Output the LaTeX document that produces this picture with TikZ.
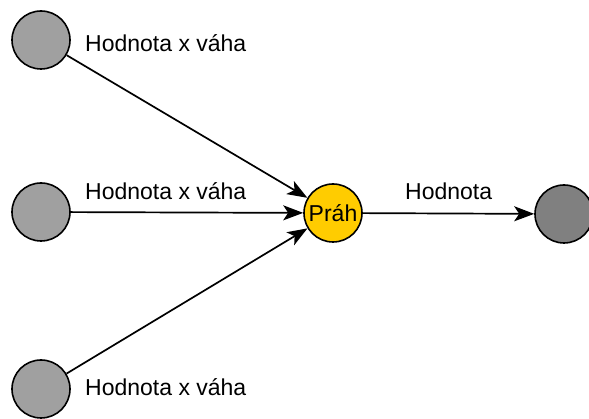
\documentclass[tikz,border=0pt]{standalone}
\usepackage{fontspec}
\setmainfont{Liberation Sans}
\usetikzlibrary{arrows.meta}
\definecolor{inputgray}{HTML}{A0A0A0}
\definecolor{outputgray}{HTML}{808080}
\definecolor{threshold}{HTML}{FFCC00}
\tikzset{
  neuron/.style={circle, draw=black, line width=1.6pt, minimum size=58pt, inner sep=0pt},
  conn/.style={line width=1.7pt, -{Stealth[length=20pt, width=15pt, inset=5pt]}},
  lbl/.style={font=\fontsize{23}{26}\selectfont, inner sep=0pt, anchor=base west},
}
\begin{document}
\begin{tikzpicture}[x=1pt, y=1pt]
  \useasboundingbox (0,0) rectangle (589,419);
  % input neurons
  \node[neuron, fill=inputgray] (i1) at (41,379) {};
  \node[neuron, fill=inputgray] (i2) at (41,207) {};
  \node[neuron, fill=inputgray] (i3) at (41,30) {};
  % threshold unit and output
  \node[neuron, fill=threshold, font=\fontsize{23}{26}\selectfont] (t) at (333,206) {Práh};
  \node[neuron, fill=outputgray] (o) at (564,205) {};
  % weighted connections
  \draw[conn] (i1) -- (t);
  \draw[conn] (i2) -- (t);
  \draw[conn] (i3) -- (t);
  \draw[conn] (t) -- (o);
  % labels
  \node[lbl] (l1) at (85,367) {Hodnota x váha};
  \node[lbl] (l2) at (85,219) {Hodnota x váha};
  \node[lbl] (l3) at (85,23) {Hodnota x váha};
  \node[lbl] (l4) at (405,219) {Hodnota};
\end{tikzpicture}
\end{document}
